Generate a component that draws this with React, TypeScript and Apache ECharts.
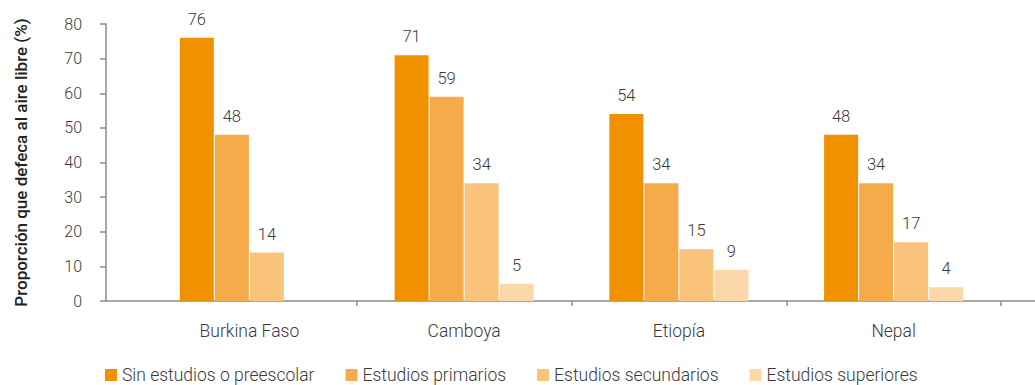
import React, { useEffect, useRef } from "react";
import * as echarts from "echarts";

const categories = ["Burkina Faso", "Camboya", "Etiopía", "Nepal"];
const seriesNames = [
  "Sin estudios o preescolar",
  "Estudios primarios",
  "Estudios secundarios",
  "Estudios superiores",
];
const sinEstudios = [76, 71, 54, 48];
const primarios = [48, 59, 34, 34];
const secundarios = [14, 34, 15, 17];
const superiores: (number | null)[] = [null, 5, 9, 4];
const colors = ["#F29100", "#F5AB4A", "#F9C37C", "#FCD7A8"];
const yTicks = { min: 0, max: 80, interval: 10 };

const FONT = "Roboto, 'DejaVu Sans', sans-serif";
const TEXT = "#3a3a3a";
const AXIS = "#8c8c8c";

export default function App() {
  const ref = useRef<HTMLDivElement>(null);
  useEffect(() => {
    document.body.style.margin = "0";
    if (!ref.current) return;
    const chart = echarts.init(ref.current, undefined, { renderer: "svg" });
    const values = [sinEstudios, primarios, secundarios, superiores];
    chart.setOption({
      animation: false,
      textStyle: { fontFamily: FONT },
      grid: [
        { left: 106, right: 0, top: 24, bottom: 84 },
        { left: 142, right: 34, top: 24, bottom: 84 },
      ],
      legend: {
        left: 100,
        bottom: -4,
        itemWidth: 12,
        itemHeight: 12,
        itemGap: 31,
        icon: "rect",
        textStyle: { fontSize: 17.5, fontWeight: 300, color: TEXT, fontFamily: FONT },
        data: seriesNames,
      },
      xAxis: [
        {
          gridIndex: 0,
          type: "value",
          min: 0,
          max: 1,
          axisLine: { show: true, lineStyle: { color: AXIS, width: 1.5 } },
          axisTick: { show: false },
          axisLabel: { show: false },
          splitLine: { show: false },
        },
        {
          gridIndex: 1,
          type: "category",
          data: categories,
          axisLine: { show: false },
          axisTick: {
            show: true,
            length: 5,
            interval: (i: number) => i > 0,
            lineStyle: { color: AXIS, width: 1.5 },
          },
          axisLabel: { fontSize: 17.5, fontWeight: 300, color: TEXT, margin: 21, fontFamily: FONT },
        },
      ],
      yAxis: [
        {
          gridIndex: 0,
          type: "value",
          ...yTicks,
          name: "Proporción que defeca al aire libre (%)",
          nameLocation: "middle",
          nameGap: 77,
          nameTextStyle: { fontSize: 17, fontWeight: 500, color: "#222", fontFamily: FONT },
          axisLine: { show: true, lineStyle: { color: AXIS, width: 1.5 } },
          axisTick: { show: true, length: 6, lineStyle: { color: AXIS, width: 1.5 } },
          axisLabel: { fontSize: 16, fontWeight: 300, color: TEXT, margin: 24, fontFamily: FONT },
          splitLine: { show: false },
        },
        {
          gridIndex: 1,
          type: "value",
          ...yTicks,
          show: false,
          splitLine: { show: false },
        },
      ],
      series: seriesNames.map((name, k) => ({
        name,
        type: "bar",
        xAxisIndex: 1,
        yAxisIndex: 1,
        data: values[k],
        barWidth: 34,
        barGap: "3%",
        itemStyle: { color: colors[k] },
        label: {
          show: true,
          position: "top",
          distance: 10,
          fontSize: 16.5,
          fontWeight: 300,
          color: TEXT,
          fontFamily: FONT,
        },
      })),
    });
    return () => chart.dispose();
  }, []);
  return <div ref={ref} style={{ width: 1035, height: 385 }} />;
}
